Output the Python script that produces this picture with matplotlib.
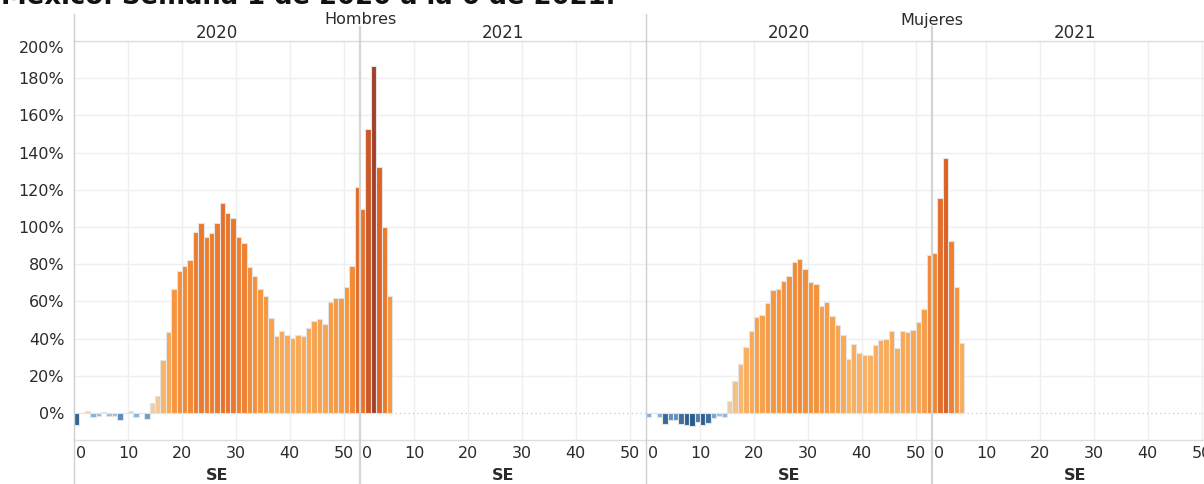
import matplotlib
matplotlib.use("Agg")
import matplotlib.pyplot as plt
import numpy as np
from matplotlib.colors import LinearSegmentedColormap
from matplotlib.lines import Line2D
import matplotlib.transforms as mtransforms

# ---------------- data ----------------
title = "México. Semana 1 de 2020 a la 6 de 2021."
panels = ["Hombres", "Mujeres"]
years = ["2020", "2021"]
x_label = "SE"
x_ticks = [0, 10, 20, 30, 40, 50]
y_ticks = [0, 20, 40, 60, 80, 100, 120, 140, 160, 180, 200]

weeks_2020 = list(range(1, 54))
weeks_2021 = list(range(1, 7))

hombres_2020 = [-6.3, 0.2, 1.0, -2.2, -1.6, 0.5, -1.4, -1.4, -3.9, 0.1,
                1.2, -2.0, 0.1, -3.0, 5.4, 9.3, 28.7, 43.4, 66.7, 76.2,
                79.2, 82.4, 97.3, 102.0, 94.6, 96.8, 102.0, 113.0, 107.7, 104.8,
                94.6, 91.4, 78.3, 73.5, 66.7, 62.9, 50.9, 41.6, 44.1, 41.9,
                40.1, 41.9, 41.6, 45.9, 49.6, 50.5, 47.7, 59.7, 61.6, 61.6,
                67.7, 79.2, 121.3]
hombres_2021 = [109.7, 152.7, 186.4, 132.1, 99.8, 62.9]

mujeres_2020 = [-2.2, 0.1, -2.2, -5.9, -3.6, -3.6, -5.7, -6.5, -6.8, -4.7,
                -6.5, -5.6, -2.7, -1.4, -2.0, 6.2, 17.4, 26.5, 35.5, 44.1,
                51.8, 52.5, 59.3, 65.9, 66.6, 70.9, 73.8, 81.2, 82.6, 77.2,
                70.2, 69.2, 57.8, 59.9, 52.2, 47.2, 41.8, 29.0, 37.3, 32.3,
                31.4, 31.4, 36.7, 39.2, 39.6, 43.9, 35.1, 43.9, 43.5, 44.6,
                49.2, 55.7, 84.7]
mujeres_2021 = [86.2, 115.8, 137.1, 92.7, 67.5, 37.5]

# ---------------- colours ----------------
pos_cmap = LinearSegmentedColormap.from_list("pos", [
    (0.00, "#e4d3bc"), (0.05, "#f2c897"), (0.15, "#fbb466"), (0.28, "#f9a14a"),
    (0.42, "#f38c35"), (0.58, "#ea742a"), (0.75, "#d95e24"), (0.88, "#c0502a"),
    (1.00, "#a0402a")])
neg_cmap = LinearSegmentedColormap.from_list("neg", [
    (0.00, "#c4dcee"), (0.25, "#8dbbe0"), (0.55, "#5a8ec1"), (1.00, "#2a5a8c")])

all_vals = hombres_2020 + hombres_2021 + mujeres_2020 + mujeres_2021
vmax = max(all_vals)
vmin = min(all_vals)


def colour(v):
    if v >= 0:
        return pos_cmap(v / vmax)
    return neg_cmap(v / vmin)


# ---------------- figure ----------------
W, H = 1204, 484
fig = plt.figure(figsize=(W / 100, H / 100), dpi=100)
plt.rcParams['font.family'] = ['DejaVu Sans']

pane_w = 286
left0 = 74
top_px = 41
bot_px = 440
ylim = (-14.5, 200)
xlim = (0, 53)

grid_c = "#efefef"
text_c = "#2b2b2b"
tick_fs = 11.5

series = [(hombres_2020, weeks_2020), (hombres_2021, weeks_2021),
          (mujeres_2020, weeks_2020), (mujeres_2021, weeks_2021)]

axes = []
for i, (vals, wks) in enumerate(series):
    x0 = left0 + i * pane_w
    ax = fig.add_axes([x0 / W, (H - bot_px) / H, pane_w / W, (bot_px - top_px) / H])
    axes.append(ax)
    ax.set_xlim(*xlim)
    ax.set_ylim(*ylim)
    for s in ax.spines.values():
        s.set_visible(False)
    for t in x_ticks[1:]:
        ax.axvline(t, color=grid_c, lw=1, zorder=0)
    for t in y_ticks[1:]:
        ax.axhline(t, color=grid_c, lw=1, zorder=0)
    ax.axhline(0, color="#c8c8c8", lw=0.9, ls=(0, (1, 2.5)), zorder=1)
    xs = [w - 0.5 for w in wks]
    ax.bar(xs, vals, width=1.0, color=[colour(v) for v in vals],
           edgecolor="#e4e4e4", linewidth=0.8, zorder=2)
    ax.set_xticks(x_ticks)
    ax.set_xticklabels([str(t) for t in x_ticks])
    ax.tick_params(axis='x', length=0, pad=4, labelsize=tick_fs, labelcolor=text_c)
    labs = ax.get_xticklabels()
    labs[0].set_horizontalalignment('left')
    labs[0].set_transform(labs[0].get_transform() +
                          mtransforms.ScaledTranslation(2 / 100, 0, fig.dpi_scale_trans))
    if i == 0:
        ax.set_yticks(y_ticks)
        ax.set_yticklabels([f"{t}%" for t in y_ticks])
        ax.tick_params(axis='y', length=0, pad=7, labelsize=tick_fs, labelcolor=text_c)
        ylabs = ax.get_yticklabels()
        ylabs[-1].set_verticalalignment('top')
    else:
        ax.set_yticks([])
    # SE label
    fig.text((x0 + pane_w / 2) / W, 1 - 476 / H, x_label, ha='center', va='center',
             fontsize=11.5, fontweight='bold', color=text_c)
    # year header
    fig.text((x0 + pane_w / 2) / W, 1 - 33 / H, years[i % 2], ha='center', va='center',
             fontsize=12, color=text_c)

for j, name in enumerate(panels):
    cx = left0 + j * 2 * pane_w + pane_w
    fig.text(cx / W, 1 - 20 / H, name, ha='center', va='center', fontsize=11.5, color=text_c)


def fline(xs, ys, color, lw):
    fig.add_artist(Line2D([x / W for x in xs], [1 - y / H for y in ys],
                          color=color, lw=lw, transform=fig.transFigure, zorder=5))


# header horizontal line and bottom axis line
fline([left0, W], [top_px, top_px], "#dddddd", 1.0)
fline([left0, W], [bot_px, bot_px], "#dddddd", 1.0)
# panel borders
for j in range(2):
    xb = left0 + j * 2 * pane_w
    fline([xb, xb], [14, H], "#cfcfcf", 1.0)
    xd = xb + pane_w
    fline([xd, xd], [27, H], "#d4d4d4", 1.6)

# title (cropped at the top of the image)
fig.text(1 / W, 1 - 4 / H, title, ha='left', va='baseline', fontsize=18.6,
         fontweight='bold', color="#111111")

fig.savefig("out.png", dpi=100)
